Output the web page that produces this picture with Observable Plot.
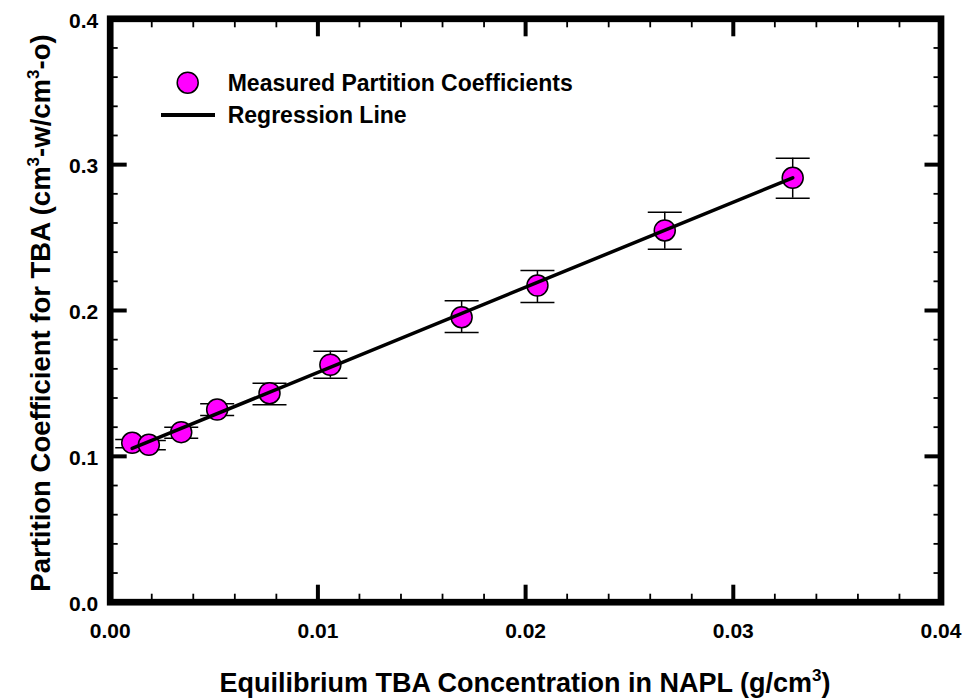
<!DOCTYPE html>
<html><head><meta charset="utf-8">
<script src="https://cdn.jsdelivr.net/npm/d3@7"></script>
<script src="https://cdn.jsdelivr.net/npm/@observablehq/plot@0.6"></script>
<style>
body{margin:0;background:#fff;}
#wrap{width:968px;height:698px;}
</style></head><body><div id="wrap"></div>
<script>
const concentration = [0.00106, 0.00186, 0.00342, 0.00515, 0.00767, 0.01060, 0.01692, 0.02057, 0.02670, 0.03286];
const partitionCoef = [0.1093, 0.1079, 0.1166, 0.1321, 0.1433, 0.1628, 0.1954, 0.2171, 0.2549, 0.2910];
const errLow  = [0.1059, 0.1045, 0.1124, 0.1280, 0.1353, 0.1536, 0.1849, 0.2055, 0.2420, 0.2770];
const errHigh = [0.1115, 0.1109, 0.1200, 0.1360, 0.1502, 0.1721, 0.2067, 0.2274, 0.2674, 0.3044];
// Regression line end points
const regressionX = [0.00106, 0.03286];
const regressionY = [0.1054, 0.2910];
// Ticks
const xMajorTicks = [0, 0.01, 0.02, 0.03, 0.04];
const xTickLabels = ["0.00", "0.01", "0.02", "0.03", "0.04"];
const xMinorTicks = [0.002, 0.004, 0.006, 0.008, 0.012, 0.014, 0.016, 0.018, 0.022, 0.024, 0.026, 0.028, 0.032, 0.034, 0.036, 0.038];
const yMajorTicks = [0, 0.1, 0.2, 0.3, 0.4];
const yTickLabels = ["0.0", "0.1", "0.2", "0.3", "0.4"];
const yMinorTicks = [0.02, 0.04, 0.06, 0.08, 0.12, 0.14, 0.16, 0.18, 0.22, 0.24, 0.26, 0.28, 0.32, 0.34, 0.36, 0.38];
const legendLabels = ["Measured Partition Coefficients", "Regression Line"];

const points = concentration.map((x, i) => ({x, y: partitionCoef[i], lo: errLow[i], hi: errHigh[i]}));
const regression = regressionX.map((x, i) => ({x, y: regressionY[i]}));

const capSymbol = {draw(ctx) { ctx.moveTo(-17, 0); ctx.lineTo(17, 0); }};
const FONT = '"Liberation Sans", Arial, Helvetica, sans-serif';

const tickAxes = [];
for (const anchor of ["bottom", "top"]) {
  tickAxes.push(Plot.axisX(xMajorTicks, {anchor, tickSize: -17, strokeWidth: 4, fill: "none", label: null}));
  tickAxes.push(Plot.axisX(xMinorTicks, {anchor, tickSize: -8, strokeWidth: 1.8, fill: "none", label: null}));
}
for (const anchor of ["left", "right"]) {
  tickAxes.push(Plot.axisY(yMajorTicks, {anchor, tickSize: -17, strokeWidth: 4, fill: "none", label: null}));
  tickAxes.push(Plot.axisY(yMinorTicks, {anchor, tickSize: -8, strokeWidth: 1.8, fill: "none", label: null}));
}

const chart = Plot.plot({
  width: 968,
  height: 698,
  marginLeft: 109.7,
  marginRight: 27.5,
  marginTop: 18.3,
  marginBottom: 96.3,
  x: {domain: [0, 0.04], label: null},
  y: {domain: [0, 0.4], label: null},
  style: {fontFamily: FONT, fontWeight: "bold", color: "black", background: "white"},
  marks: [
    Plot.ruleX(points, {x: "x", y1: "lo", y2: "hi", stroke: "black", strokeWidth: 1.5}),
    Plot.dot(points, {x: "x", y: "lo", symbol: capSymbol, stroke: "black", strokeWidth: 1.5}),
    Plot.dot(points, {x: "x", y: "hi", symbol: capSymbol, stroke: "black", strokeWidth: 1.5}),
    Plot.dot(points, {x: "x", y: "y", r: 10.5, fill: "#ff00ff", stroke: "black", strokeWidth: 1.5}),
    Plot.line(regression, {x: "x", y: "y", stroke: "black", strokeWidth: 3.5}),
    ...tickAxes,
    Plot.text(xMajorTicks, {x: d => d, text: d => xTickLabels[xMajorTicks.indexOf(d)], frameAnchor: "bottom",
      lineAnchor: "bottom", dy: 35.5, fontSize: 21, fontWeight: "bold", fontFamily: FONT, fill: "black"}),
    Plot.text(yMajorTicks, {y: d => d, text: d => yTickLabels[yMajorTicks.indexOf(d)], frameAnchor: "left",
      textAnchor: "end", lineAnchor: "middle", dx: -12, dy: 2, fontSize: 21, fontWeight: "bold", fontFamily: FONT, fill: "black"}),
    Plot.frame({stroke: "black", strokeWidth: 6.7})
  ]
});
document.getElementById("wrap").appendChild(chart);

// Axis titles and legend
const svg = d3.select(chart);
const g = svg.append("g").attr("font-family", FONT).attr("font-weight", "bold").attr("fill", "black");

const xt = g.append("text").attr("x", 525).attr("y", 691.5).attr("text-anchor", "middle").attr("font-size", 27);
xt.append("tspan").text("Equilibrium TBA Concentration in NAPL (g/cm");
xt.append("tspan").attr("font-size", 17).attr("dy", -11).text("3");
xt.append("tspan").attr("dy", 11).text(")");

const yt = g.append("text").attr("transform", "translate(50,313) rotate(-90)").attr("text-anchor", "middle").attr("font-size", 27.5);
yt.append("tspan").text("Partition Coefficient for TBA (cm");
yt.append("tspan").attr("font-size", 17).attr("dy", -11).text("3");
yt.append("tspan").attr("dy", 11).text("-w/cm");
yt.append("tspan").attr("font-size", 17).attr("dy", -11).text("3");
yt.append("tspan").attr("dy", 11).text("-o)");

g.append("circle").attr("cx", 187.7).attr("cy", 82.7).attr("r", 10.5).attr("fill", "#ff00ff").attr("stroke", "black").attr("stroke-width", 1.5);
g.append("text").attr("x", 227.7).attr("y", 90.7).attr("text-anchor", "start").attr("font-size", 23).text(legendLabels[0]);
g.append("line").attr("x1", 161).attr("x2", 215).attr("y1", 115).attr("y2", 115).attr("stroke", "black").attr("stroke-width", 4);
g.append("text").attr("x", 227.7).attr("y", 123.3).attr("text-anchor", "start").attr("font-size", 23).text(legendLabels[1]);
</script>
</body></html>
